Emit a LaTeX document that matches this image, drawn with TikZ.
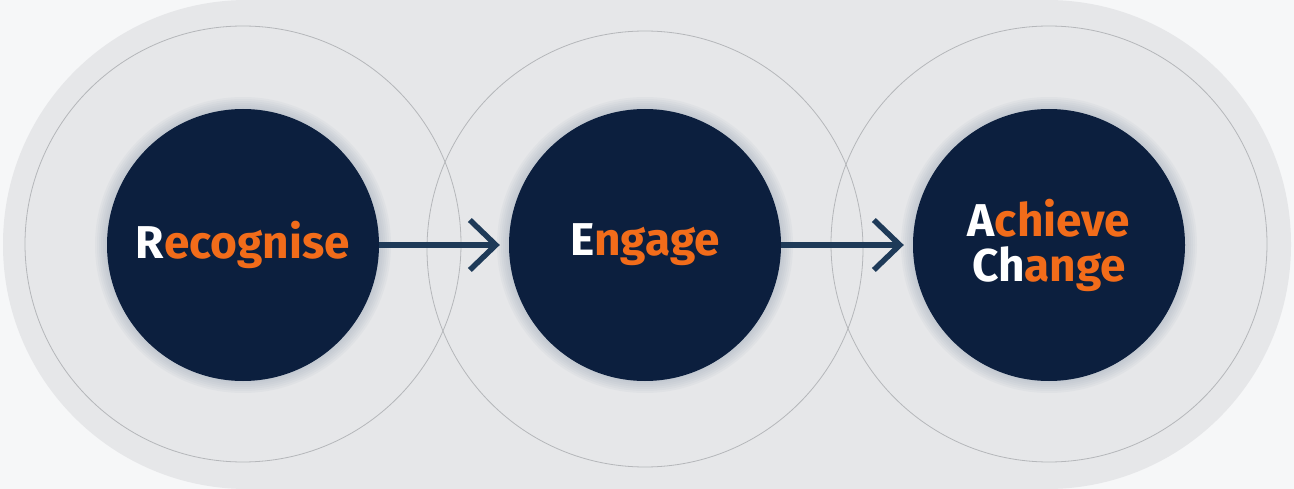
\documentclass[tikz,border=0pt]{standalone}
\usepackage{fontspec}
\setmainfont{Fira Sans}
\usetikzlibrary{arrows.meta}
\definecolor{bgwhite}{HTML}{F6F7F8}
\definecolor{stad}{HTML}{E6E7E9}
\definecolor{ring}{HTML}{B5B7BA}
\definecolor{navy}{HTML}{0C1F3E}
\definecolor{orng}{HTML}{F26C1A}
\definecolor{arr}{HTML}{1E3A58}
\definecolor{glow}{HTML}{8E9BAE}
\tikzset{
  outerring/.style={draw=ring, line width=0.8pt, circle, minimum size=436pt, inner sep=0pt},
  core/.style={circle, fill=navy, minimum size=272pt, inner sep=0pt, text=white,
     font=\fontsize{46}{45}\selectfont\bfseries, align=center},
  flow/.style={draw=arr, line width=5.5pt, -{Straight Barb[length=26pt, width=50pt]}, shorten >=9pt}
}
\newcommand{\og}[1]{\textcolor{orng}{#1}}
\begin{document}
\begin{tikzpicture}[x=1pt,y=-1pt]
\useasboundingbox (0,0) rectangle (1294,489);
\fill[bgwhite] (0,0) rectangle (1294,489);
\fill[stad, rounded corners=244pt] (3,0) rectangle (1291,489);
% outer rings
\node[outerring] (r1) at (243,244) {};
\node[outerring] (r2) at (645,249) {};
\node[outerring] (r3) at (1049,244) {};
% glows
\foreach \cx/\cy in {243/245, 645/245, 1049/245}{
  \foreach \r in {148,146,...,136}{
    \fill[glow, opacity=0.07] (\cx,\cy) circle (\r pt);
  }
}
% cores
\node[core] (c1) at (243,245) {R\og{ecognise}};
\node[core] (c2) at (645,245) {E\og{ngage}};
\node[core] (c3) at (1049,245) {A\og{chieve}\\Ch\og{ange}};
% connectors
\draw[flow] (c1) -- (c2);
\draw[flow] (c2) -- (c3);
\end{tikzpicture}
\end{document}
